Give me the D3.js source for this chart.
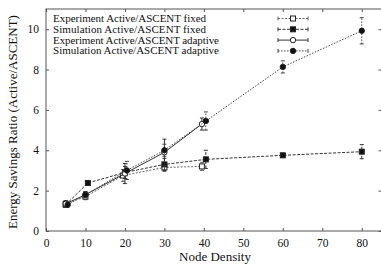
<!DOCTYPE html>
<html>
<head>
<meta charset="utf-8">
<script src="https://cdn.jsdelivr.net/npm/d3@7"></script>
<style>
  body { margin: 0; background: #fff; }
  text { font-family: "Liberation Serif", "DejaVu Serif", serif; fill: #111; }
</style>
</head>
<body>
<div id="wrapper"></div>
<script>
// values
const seriesNames = [
    "Experiment Active/ASCENT fixed",
    "Simulation Active/ASCENT fixed",
    "Experiment Active/ASCENT adaptive",
    "Simulation Active/ASCENT adaptive"
];

const expFixedX = [5, 10, 19.5, 30, 39.5];
const expFixedY = [1.35, 1.7, 2.75, 3.15, 3.2];
const expFixedErr = [0.15, 0.15, 0.3, 0.2, 0.2];

const simFixedX = [5, 10.6, 20, 30, 40.5, 60, 80];
const simFixedY = [1.3, 2.38, 2.9, 3.3, 3.55, 3.75, 3.93];
const simFixedErr = [0.1, 0.1, 0.3, 0.3, 0.45, 0.1, 0.35];

const expAdaptX = [5, 10, 20, 30, 39.5];
const expAdaptY = [1.35, 1.8, 2.85, 3.9, 5.3];
const expAdaptErr = [0.15, 0.15, 0.5, 0.65, 0.3];

const simAdaptX = [5.5, 10, 20.5, 30, 40.5, 60, 80];
const simAdaptY = [1.3, 1.8, 3.0, 4.0, 5.45, 8.13, 9.92];
const simAdaptErr = [0.1, 0.15, 0.45, 0.3, 0.45, 0.3, 0.65];

const xTicks = [0, 10, 20, 30, 40, 50, 60, 70, 80];
const yTicks = [0, 2, 4, 6, 8, 10];

function buildPlot() {
    const zip = (xs, ys, es) => xs.map((x, i) => ({x: x, y: ys[i], e: es[i]}));

    const series = [
        {name: seriesNames[0], data: zip(expFixedX, expFixedY, expFixedErr), marker: "square", filled: false, dash: "2,1.5", color: "#666"},
        {name: seriesNames[1], data: zip(simFixedX, simFixedY, simFixedErr), marker: "square", filled: true, dash: "3,1.5", color: "#333"},
        {name: seriesNames[2], data: zip(expAdaptX, expAdaptY, expAdaptErr), marker: "circle", filled: false, dash: null, color: "#333"},
        {name: seriesNames[3], data: zip(simAdaptX, simAdaptY, simAdaptErr), marker: "circle", filled: true, dash: "1.5,1.5", color: "#444"}
    ];

    var dimension = {
        width: 381,
        height: 266,
        margin: {top: 9, left: 46, bottom: 35, right: 0}
    };
    dimension.boundedWidth = dimension.width - dimension.margin.left - dimension.margin.right;
    dimension.boundedHeight = dimension.height - dimension.margin.top - dimension.margin.bottom;

    const svg = d3.select("#wrapper").append("svg")
        .attr("width", dimension.width)
        .attr("height", dimension.height);

    const bounded = svg.append("g")
        .attr("transform", `translate(${dimension.margin.left},${dimension.margin.top})`);

    const xScaler = d3.scaleLinear()
        .domain([0, 85])
        .range([0, 335.5]);

    const yScaler = d3.scaleLinear()
        .domain([0, 11])
        .range([dimension.boundedHeight, 0]);

    const w = xScaler(85), h = dimension.boundedHeight;

    // frame with inward ticks on all four sides
    bounded.append("rect")
        .attr("x", 0).attr("y", 0)
        .attr("width", w).attr("height", h)
        .attr("fill", "none").attr("stroke", "#555").attr("stroke-width", 1);

    const xAxis = bounded.append("g")
        .attr("transform", `translate(0,${h})`)
        .call(d3.axisBottom(xScaler).tickValues(xTicks).tickSizeInner(-3).tickSizeOuter(0).tickPadding(8));
    xAxis.select(".domain").remove();
    xAxis.selectAll("text").style("font-size", "11.5px").style("font-family", "Liberation Serif");
    xAxis.selectAll("line").attr("stroke", "#555");

    const xTop = bounded.append("g")
        .call(d3.axisTop(xScaler).tickValues(xTicks).tickSizeInner(-3).tickSizeOuter(0).tickFormat(""));
    xTop.select(".domain").remove();
    xTop.selectAll("line").attr("stroke", "#555");

    const yAxis = bounded.append("g")
        .call(d3.axisLeft(yScaler).tickValues(yTicks).tickSizeInner(-3).tickSizeOuter(0).tickPadding(7));
    yAxis.select(".domain").remove();
    yAxis.selectAll("text").style("font-size", "11.5px").style("font-family", "Liberation Serif");
    yAxis.selectAll("line").attr("stroke", "#555");

    const yRight = bounded.append("g")
        .attr("transform", `translate(${w},0)`)
        .call(d3.axisRight(yScaler).tickValues(yTicks).tickSizeInner(-3).tickSizeOuter(0).tickFormat(""));
    yRight.select(".domain").remove();
    yRight.selectAll("line").attr("stroke", "#555");

    // axis titles
    svg.append("text")
        .attr("x", dimension.margin.left + 169)
        .attr("y", 261)
        .attr("text-anchor", "middle")
        .style("font-size", "13px")
        .text("Node Density");

    svg.append("text")
        .attr("transform", `translate(17,${dimension.margin.top + h / 2 + 2}) rotate(-90)`)
        .attr("text-anchor", "middle")
        .style("font-size", "13px")
        .text("Energy Savings Ratio (Active/ASCENT)");

    const lineGenerator = d3.line()
        .x(d => xScaler(d.x))
        .y(d => yScaler(d.y));

    function drawMarker(g, cx, cy, s) {
        if (s.marker === "square") {
            g.append("rect")
                .attr("x", cx - 2.5).attr("y", cy - 2.5)
                .attr("width", 5).attr("height", 5)
                .attr("fill", s.filled ? "#111" : "#fff")
                .attr("stroke", "#222").attr("stroke-width", 1);
        } else {
            g.append("circle")
                .attr("cx", cx).attr("cy", cy).attr("r", 2.7)
                .attr("fill", s.filled ? "#111" : "#fff")
                .attr("stroke", "#222").attr("stroke-width", 1);
        }
    }

    series.forEach(s => {
        const g = bounded.append("g");
        g.append("path")
            .attr("d", lineGenerator(s.data))
            .attr("fill", "none")
            .attr("stroke", s.color)
            .attr("stroke-width", 1)
            .attr("stroke-dasharray", s.dash);

        s.data.forEach(d => {
            const cx = xScaler(d.x);
            const y0 = yScaler(d.y - d.e), y1 = yScaler(d.y + d.e);
            g.append("line")
                .attr("x1", cx).attr("x2", cx).attr("y1", y0).attr("y2", y1)
                .attr("stroke", s.color).attr("stroke-width", 1)
                .attr("stroke-dasharray", s.dash);
            [y0, y1].forEach(yy => g.append("line")
                .attr("x1", cx - 2).attr("x2", cx + 2).attr("y1", yy).attr("y2", yy)
                .attr("stroke", s.color).attr("stroke-width", 1));
            drawMarker(g, cx, yScaler(d.y), s);
        });
    });

    // legend
    const legend = bounded.append("g");
    series.forEach((s, i) => {
        const ly = 9.5 + i * 10.8;
        legend.append("text")
            .attr("x", 7).attr("y", ly + 3.5)
            .attr("textLength", i < 2 ? 153 : 166)
            .style("font-size", "11px")
            .text(s.name);
        const x0 = 232, x1 = 262;
        legend.append("line")
            .attr("x1", x0).attr("x2", x1).attr("y1", ly).attr("y2", ly)
            .attr("stroke", s.color).attr("stroke-width", 1)
            .attr("stroke-dasharray", s.dash);
        [x0, x1].forEach(xx => legend.append("line")
            .attr("x1", xx).attr("x2", xx).attr("y1", ly - 2).attr("y2", ly + 2)
            .attr("stroke", s.color).attr("stroke-width", 1));
        drawMarker(legend, (x0 + x1) / 2, ly, s);
    });
}

buildPlot();
</script>
</body>
</html>
